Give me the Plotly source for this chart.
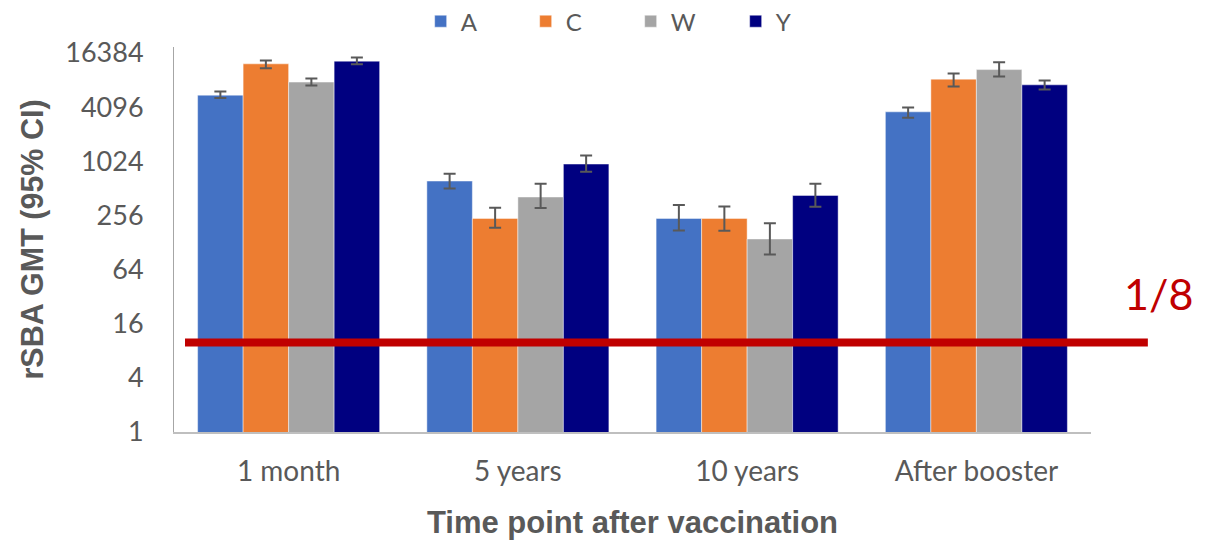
import plotly.graph_objects as go

categories = ["1 month", "5 years", "10 years", "After booster"]
series_names = ["A", "C", "W", "Y"]

gmt_A = [5560, 617, 237, 3630]
gmt_C = [12400, 237, 237, 8380]
gmt_W = [7770, 410, 140, 10700]
gmt_Y = [13280, 953, 427, 7245]

upper_A = [6100, 744, 334, 4050]
upper_C = [13490, 312, 322, 9680]
upper_W = [8510, 576, 209, 12950]
upper_Y = [14560, 1188, 576, 8090]

lower_A = [5160, 511, 174, 3115]
lower_C = [11110, 187, 173, 6935]
lower_W = [7116, 309, 94, 8960]
lower_Y = [12300, 783, 320, 6424]

threshold = 9.9
threshold_label = "1/8"

tick_vals = [1, 4, 16, 64, 256, 1024, 4096, 16384]
tick_text = ["1", "4", "16", "64", "256", "1024", "4096", "16384"]

colors = ["#4472C4", "#ED7D31", "#A5A5A5", "#000080"]
values = [gmt_A, gmt_C, gmt_W, gmt_Y]
uppers = [upper_A, upper_C, upper_W, upper_Y]
lowers = [lower_A, lower_C, lower_W, lower_Y]

fig = go.Figure()
for name, col, v, up, lo in zip(series_names, colors, values, uppers, lowers):
    fig.add_trace(go.Bar(
        x=categories, y=v, name=name,
        marker=dict(color=col, line=dict(color="rgba(255,255,255,0.45)", width=1)),
        error_y=dict(type="data", symmetric=False,
                     array=[u - a for u, a in zip(up, v)],
                     arrayminus=[a - l for a, l in zip(v, lo)],
                     color="#595959", thickness=2, width=6),
    ))

fig.add_shape(type="line", xref="paper", yref="y",
              x0=0.012, x1=1.062, y0=threshold, y1=threshold,
              line=dict(color="#C00000", width=8), layer="above")

fig.add_annotation(text=threshold_label, xref="paper", yref="paper",
                   x=1.074, y=0.359, xanchor="center", yanchor="middle", showarrow=False,
                   font=dict(family="Lato", size=43, color="#C00000"))

fig.update_layout(
    width=1200, height=532,
    margin=dict(l=166, r=117, t=39, b=107.5, autoexpand=False),
    paper_bgcolor="white", plot_bgcolor="white",
    barmode="group", bargap=0.206, bargroupgap=0,
    font=dict(family="Lato", color="#595959"),
    legend=dict(orientation="h", x=0.498, xanchor="center", y=1.066, yanchor="middle",
                font=dict(family="Lato", size=24, color="#595959"),
                entrywidth=60, traceorder="normal"),
    xaxis=dict(showline=True, linecolor="#BFBFBF", linewidth=2, ticks="",
               showgrid=False, tickfont=dict(family="Lato", size=28, color="#595959"),
               ticklabelstandoff=13,
               title=dict(text="<b>Time point after vaccination</b>",
                          font=dict(family="Liberation Sans", size=31, color="#595959"),
                          standoff=26)),
    yaxis=dict(type="log", range=[0, 4.2807], showline=True, linecolor="#A6A6A6", linewidth=1,
               ticks="", showgrid=False, zeroline=False,
               tickvals=tick_vals, ticktext=tick_text,
               tickfont=dict(family="Lato", size=27, color="#595959"),
               ticklabelstandoff=24,
               title=dict(text="<b>rSBA GMT (95% CI)</b>",
                          font=dict(family="Liberation Sans", size=30.5, color="#595959"),
                          standoff=12)),
)

fig.write_html("out.html")
